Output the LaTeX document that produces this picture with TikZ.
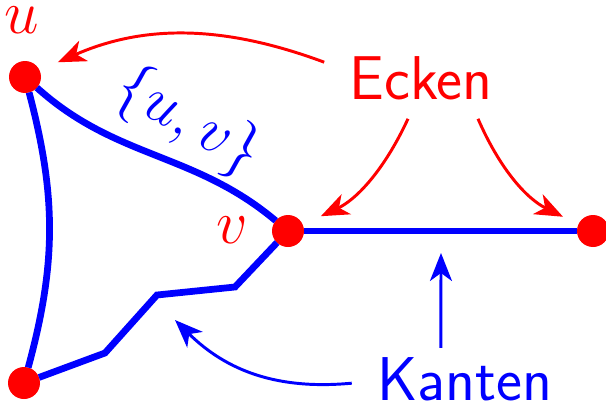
\RequirePackage{fix-cm}
\documentclass[tikz,border=0pt]{standalone}
\usepackage{amsmath, amssymb}
\usepackage{tikz}
\usetikzlibrary{arrows.meta, positioning, calc}
\tikzset{
    ecke/.style={circle, fill=red, minimum size=0.8cm, inner sep=0pt, outer sep=0pt},
    kante/.style={blue, line width=4.8pt},
    marke/.style={inner sep=0pt, font=\fontsize{44}{52}\selectfont},
    rotpfeil/.style={-{Stealth[length=7mm, width=5.5mm, inset=2mm]}, red, line width=2.1pt},
    blaupfeil/.style={-{Stealth[length=7mm, width=5.5mm, inset=2mm]}, blue, line width=2.1pt},
}
\begin{document}
\begin{tikzpicture}
    \useasboundingbox (0,0) rectangle (15.15,10.15);
    \node[ecke] (u) at (0.625, 8.225) {};
    \node[ecke] (v) at (7.2, 4.375) {};
    \node[ecke] (w) at (14.825, 4.375) {};
    \node[ecke] (x) at (0.6, 0.575) {};
    \node[marke, red] (ulabel) at (0.55, 9.65) {$u$};
    \node[marke, red] (vlabel) at (5.8, 4.4) {$v$};
    \node[marke, blue, rotate=-29] (uvlabel) at (4.7, 7.1) {$\{u,v\}$};
    \node[marke, red, anchor=base, font=\fontsize{44}{52}\selectfont\sffamily] (ecken) at (10.525, 7.675) {Ecken};
    \node[marke, blue, anchor=base, font=\fontsize{44}{52}\selectfont\sffamily] (kanten) at (11.6125, 0.15) {Kanten};
    \coordinate (zielgerade) at (11.025, 3.825);
    \coordinate (zielzacke) at (4.375, 2.15);
    % Kanten
    \draw[kante] (u) to[out=-42, in=140] (v);
    \draw[kante] (u) to[bend left=15] (x);
    \draw[kante, line join=miter] (x) -- (2.625, 1.325) -- (3.925, 2.775) -- (5.875, 2.975) -- (v);
    \draw[kante] (v) -- (w);
    % Pfeile
    \draw[rotpfeil, shorten >=0.5cm] ([xshift=-0.625cm, yshift=0.39cm]ecken.west) to[bend right=22] (u);
    \draw[rotpfeil, shorten >=0.5cm] ([xshift=-0.325cm, yshift=-0.475cm]ecken.south) to[bend left=20] (v);
    \draw[rotpfeil, shorten >=0.43cm] ([xshift=1.425cm, yshift=-0.475cm]ecken.south) to[bend right=20] (w);
    \draw[blaupfeil] ([xshift=-0.59cm, yshift=0.225cm]kanten.north) -- (zielgerade);
    \draw[blaupfeil] ([xshift=-0.625cm, yshift=-0.11cm]kanten.west) to[bend left=25] (zielzacke);
\end{tikzpicture}
\end{document}
